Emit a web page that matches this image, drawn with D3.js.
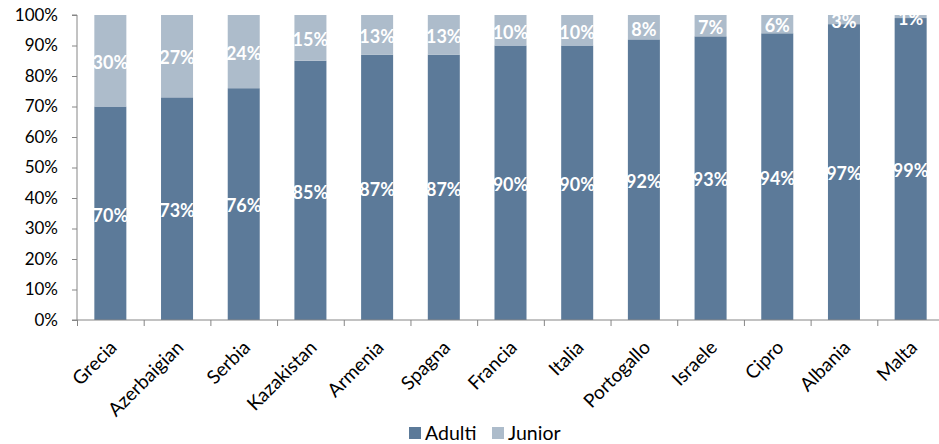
<!DOCTYPE html>
<html>
<head>
<meta charset="utf-8">
<script src="https://cdn.jsdelivr.net/npm/d3@7"></script>
<style>
  html, body { margin: 0; padding: 0; background: #fff; }
  svg { display: block; }
  text { font-family: Lato, "Open Sans", sans-serif; }
</style>
</head>
<body>
<svg id="chart" width="939" height="444"></svg>
<script>
// Share of athletes per country, adults vs juniors
const countries = ["Grecia","Azerbaigian","Serbia","Kazakistan","Armenia","Spagna","Francia","Italia","Portogallo","Israele","Cipro","Albania","Malta"];
const adulti = [70,73,76,85,87,87,90,90,92,93,94,97,99];
const junior = [30,27,24,15,13,13,10,10,8,7,6,3,1];
const seriesNames = ["Adulti","Junior"];
const yTicks = [0,10,20,30,40,50,60,70,80,90,100];

const colors = { Adulti: "#5c7a99", Junior: "#adbccb" };

const svg = d3.select("#chart");
const margin = { left: 77, top: 15, right: 0, bottom: 124 };
const plotW = 867, plotH = 305;

const g = svg.append("g").attr("transform", `translate(${margin.left},${margin.top})`);

const x = d3.scaleBand().domain(countries).range([0, plotW]).paddingInner(0.52).paddingOuter(0.26);
const y = d3.scaleLinear().domain([0, 100]).range([plotH, 0]);

const rows = countries.map((c, i) => ({ country: c, Adulti: adulti[i], Junior: junior[i] }));
const stacked = d3.stack().keys(seriesNames)(rows);

// stacked bars
g.selectAll("g.series").data(stacked).join("g")
  .attr("class", "series")
  .attr("fill", d => colors[d.key])
  .selectAll("rect").data(d => d).join("rect")
  .attr("x", d => x(d.data.country))
  .attr("width", x.bandwidth())
  .attr("y", d => y(d[1]))
  .attr("height", d => y(d[0]) - y(d[1]));

// value labels, centred in each segment
g.selectAll("g.labels").data(stacked).join("g")
  .attr("class", "labels")
  .selectAll("text").data(d => d.map(v => ({ v, key: d.key }))).join("text")
  .attr("x", d => x(d.v.data.country) + x.bandwidth() / 2)
  .attr("y", d => y((d.v[0] + d.v[1]) / 2) + 2)
  .attr("dy", "0.35em")
  .attr("text-anchor", "middle")
  .attr("fill", "#fff")
  .attr("font-weight", "bold")
  .attr("font-size", 18)
  .text(d => d.v.data[d.key] + "%");

// y axis
const yAxis = g.append("g")
  .call(d3.axisLeft(y).tickValues(yTicks).tickFormat(d => d + "%").tickSize(5).tickPadding(14));
yAxis.selectAll("text").attr("font-size", 17).attr("fill", "#000");
yAxis.selectAll("line, path").attr("stroke", "#868686");
yAxis.select(".domain").attr("d", `M-5,${plotH}H0V0H-5`);

// x axis: baseline with ticks at category boundaries
const xAxis = g.append("g").attr("transform", `translate(0,${plotH})`);
xAxis.append("line").attr("x1", 0).attr("x2", plotW).attr("stroke", "#868686");
const step = x.step();
xAxis.selectAll("line.tick").data(d3.range(countries.length + 1)).join("line")
  .attr("class", "tick")
  .attr("x1", i => i * step + 0.5).attr("x2", i => i * step + 0.5)
  .attr("y1", 0).attr("y2", 6)
  .attr("stroke", "#868686");
xAxis.selectAll("text").data(countries).join("text")
  .attr("transform", d => `translate(${x(d) + x.bandwidth() / 2 + 3},${24}) rotate(-45)`)
  .attr("text-anchor", "end")
  .attr("dy", "0.35em")
  .attr("font-size", 19)
  .attr("fill", "#000")
  .text(d => d);

// legend
const legend = svg.append("g").attr("transform", "translate(409,427)");
const items = legend.selectAll("g").data(seriesNames).join("g")
  .attr("transform", (d, i) => `translate(${i * 83},0)`);
items.append("rect").attr("width", 12).attr("height", 12).attr("fill", d => colors[d]);
items.append("text").attr("x", 16).attr("y", 13).attr("font-size", 19.5).attr("fill", "#000").text(d => d);
</script>
</body>
</html>
